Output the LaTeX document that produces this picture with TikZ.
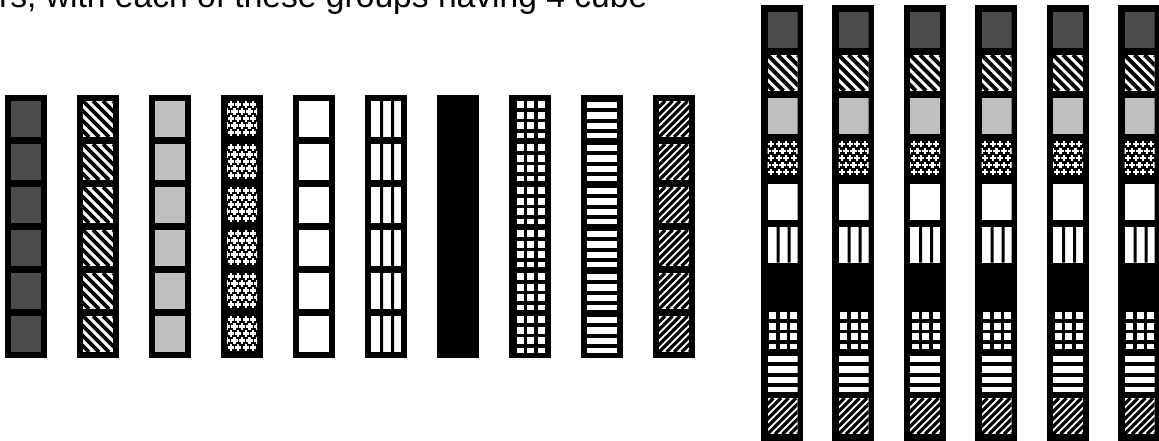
\documentclass[tikz,border=0pt]{standalone}
\usepackage{fontspec}
\setmainfont{Liberation Sans}
\newcommand\cellpat[3]{%
\begin{scope}[shift={(#2,#3)}]
\clip (0,0) rectangle (30,36);
\ifcase#1\relax
\or % 1 dark gray
  \fill[darkfill] (0,0) rectangle (30,36);
\or % 2 backslash stripes
  \fill[white] (0,0) rectangle (30,36);
  \foreach \i in {-4,...,3} {\draw[stripe] (\i*10,0) -- ++(36,36);}
\or % 3 light gray
  \fill[lightfill] (0,0) rectangle (30,36);
\or % 4 crosses
  \fill[black] (0,0) rectangle (30,36);
  \foreach \x in {3.75,11.25,18.75,26.25} {\foreach \y in {3.5,17.5,31.5} {\draw[plusmark] (\x-3.2,\y) -- (\x+3.2,\y) (\x,\y-3.2) -- (\x,\y+3.2);}}
  \foreach \x in {0,7.5,15,22.5,30} {\foreach \y in {10.5,24.5} {\draw[plusmark] (\x-3.2,\y) -- (\x+3.2,\y) (\x,\y-3.2) -- (\x,\y+3.2);}}
\or % 5 white
  \fill[white] (0,0) rectangle (30,36);
\or % 6 vertical stripes
  \fill[white] (0,0) rectangle (30,36);
  \fill[black] (9,0) rectangle (12,36) (20,0) rectangle (23,36);
\or % 7 black
  \fill[black] (0,0) rectangle (30,36);
\or % 8 grid
  \fill[black] (0,0) rectangle (30,36);
  \foreach \x in {1.5,12,22.5} {\foreach \y in {0,10.5,21,31.5} {\fill[white] (\x,\y) rectangle ++(7,7);}}
\or % 9 horizontal stripes
  \fill[black] (0,0) rectangle (30,36);
  \foreach \y in {0.5,11,21.5,32} {\fill[white] (0,\y) rectangle ++(30,6.5);}
\or % 10 slash hatch
  \fill[white] (0,0) rectangle (30,36);
  \foreach \i in {-5,...,4} {\draw[hatch] (\i*7.5,36) -- ++(36,-36);}
\fi
\end{scope}}
\begin{document}
\begin{tikzpicture}[x=1pt,y=-1pt,
  darkfill/.style={black!70},
  lightfill/.style={black!25},
  stripe/.style={line width=3.8pt,black},
  hatch/.style={line width=3.2pt,black},
  plusmark/.style={white,line width=2.2pt},
  column/.style={fill=black},
  caption/.style={anchor=base west,inner sep=0pt,font=\fontsize{33.6}{40}\selectfont}]
\clip (0,0) rectangle (1159,440);
\fill[white] (0,0) rectangle (1159,440);
\node[caption] (cap) at (-1,7.5) {rs, with each of these groups having 4 cube};
% left group: one pattern per column
\foreach \k in {1,...,10} {
  \pgfmathsetmacro\cx{5+72*(\k-1)}
  \fill[column] (\cx,94.5) rectangle ++(42,263.5);
  \foreach \r in {0,...,5} {\cellpat{\k}{\cx+6}{101+43*\r}}
}
% right group: all patterns in each column
\foreach \cx in {761,832,903.5,975,1046.5,1118} {
  \fill[column] (\cx,5) rectangle ++(42,437);
  \foreach \k in {1,...,10} {\cellpat{\k}{\cx+6.5}{12+42.9*(\k-1)}}
}
\end{tikzpicture}
\end{document}
